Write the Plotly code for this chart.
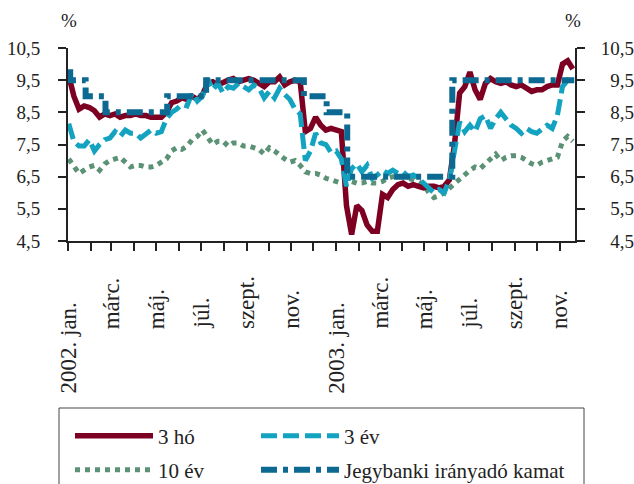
import pandas as pd
import plotly.graph_objects as go

# ---------------- data ----------------
week_start = "2002-01-02"
n_weeks = 99
weeks = pd.date_range(week_start, periods=n_weeks, freq="7D")

ho3 = [9.65, 9.0, 8.6, 8.7, 8.65, 8.55, 8.35, 8.45, 8.4, 8.45,
       8.35, 8.4, 8.4, 8.45, 8.4, 8.4, 8.35, 8.35, 8.35, 8.5,
       8.8, 8.85, 8.95, 8.9, 9.0, 8.9, 9.05, 9.4, 9.45, 9.35,
       9.45, 9.5, 9.55, 9.45, 9.5, 9.55, 9.5, 9.4, 9.3, 9.45,
       9.45, 9.6, 9.35, 9.45, 9.5, 9.45, 7.9, 8.0, 8.35, 8.1,
       7.95, 8.0, 7.95, 7.9, 5.6, 4.7, 5.6, 5.45, 5.0, 4.8,
       4.8, 5.95, 5.85, 6.1, 6.25, 6.3, 6.2, 6.25, 6.2, 6.15,
       6.2, 6.2, 6.15, 6.2, 6.4, 7.5, 9.1, 9.3, 9.75, 9.2,
       8.9, 9.4, 9.55, 9.45, 9.4, 9.45, 9.35, 9.3, 9.35, 9.25,
       9.15, 9.2, 9.2, 9.3, 9.35, 9.35, 10.0, 10.1, 9.85]

ev3 = [8.15, 7.6, 7.45, 7.45, 7.65, 7.3, 7.5, 7.65, 7.7, 7.9,
       7.75, 7.95, 7.85, 7.85, 7.7, 7.85, 7.95, 7.85, 7.9, 8.3,
       8.5, 8.6, 8.75, 8.7, 9.1, 8.85, 9.0, 9.55, 9.2, 9.4,
       9.1, 9.3, 9.25, 9.4, 9.3, 9.2, 9.35, 9.25, 8.95, 9.15,
       8.95, 9.25, 9.05, 8.9, 8.6, 8.45, 7.0, 7.3, 7.85, 7.55,
       7.5, 7.25, 7.3, 7.05, 6.2, 6.75, 6.9, 6.65, 6.85, 6.45,
       6.55, 6.7, 6.6, 6.7, 6.6, 6.65, 6.5, 6.55, 6.45, 6.3,
       6.1, 6.0, 6.1, 6.0, 6.4, 7.3, 8.2, 7.9, 8.1, 7.9,
       8.3, 8.4, 8.0, 8.3, 8.5, 8.3, 8.1, 8.0, 7.85, 8.0,
       7.9, 7.85, 8.0, 8.1, 8.0, 8.4, 9.3, 9.5, 9.4]

ev10 = [7.05, 6.85, 6.6, 6.7, 6.8, 6.85, 6.7, 6.9, 7.0, 7.05,
        7.1, 6.95, 6.8, 6.85, 6.85, 6.8, 6.8, 6.85, 6.95, 7.05,
        7.3, 7.4, 7.35, 7.45, 7.65, 7.75, 7.95, 7.7, 7.5, 7.6,
        7.6, 7.45, 7.55, 7.55, 7.45, 7.45, 7.4, 7.35, 7.2, 7.4,
        7.3, 7.15, 7.05, 6.95, 7.0, 6.85, 6.65, 6.6, 6.6, 6.55,
        6.45, 6.4, 6.35, 6.3, 6.25, 6.35, 6.3, 6.3, 6.35, 6.3,
        6.3, 6.35, 6.45, 6.5, 6.5, 6.5, 6.45, 6.4, 6.35, 6.25,
        6.0, 5.85, 5.9, 6.0, 6.15, 6.3, 6.45, 6.6, 6.7, 6.8,
        6.75, 6.9, 7.05, 7.2, 7.0, 7.1, 7.15, 7.15, 7.1, 7.0,
        6.9, 6.85, 6.95, 7.0, 7.05, 7.1, 7.6, 7.75, 7.6]

policy_dates = ["2002-01-01", "2002-01-04", "2002-01-25", "2002-02-21",
                "2002-05-16", "2002-07-08", "2002-11-18", "2002-12-19",
                "2003-01-16", "2003-06-08", "2003-11-21"]
policy_rate = [9.75, 9.5, 9.0, 8.5, 9.0, 9.5, 9.0, 8.5, 6.5, 9.5, 9.5]

series_names = ["3 hó", "3 év", "10 év", "Jegybanki irányadó kamat"]

tick_dates = ["2002-01-01", "2002-03-01", "2002-05-01", "2002-07-01",
              "2002-09-01", "2002-11-01", "2003-01-01", "2003-03-01",
              "2003-05-01", "2003-07-01", "2003-09-01", "2003-11-01"]
tick_labels = ["2002. jan.", "márc.", "máj.", "júl.", "szept.", "nov.",
               "2003. jan.", "márc.", "máj.", "júl.", "szept.", "nov."]

y_ticks = [4.5, 5.5, 6.5, 7.5, 8.5, 9.5, 10.5]

# ---------------- styling ----------------
W, H = 634, 484
ML, MR, MT, MB = 68, 59, 48, 243
PW, PH = W - ML - MR, H - MT - MB
FONT = "Liberation Serif, Times New Roman, serif"
INK = "#222222"

C_RED = "#7d0022"
C_TEAL = "#13a3c1"
C_GREEN = "#5b9275"
C_BLUE = "#0c6991"


def px_x(p):
    return (p - ML) / PW


def px_y(p):
    return (H - MB - p) / PH


fig = go.Figure()

fig.add_trace(go.Scatter(
    x=weeks, y=ev10, name=series_names[2], mode="lines",
    line=dict(color=C_GREEN, width=5, dash="5px,5px"),
    legend="legend3"))
fig.add_trace(go.Scatter(
    x=weeks, y=ho3, name=series_names[0], mode="lines",
    line=dict(color=C_RED, width=5.5),
    legend="legend"))
fig.add_trace(go.Scatter(
    x=weeks, y=ev3, name=series_names[1], mode="lines",
    line=dict(color=C_TEAL, width=5, dash="16px,6px"),
    legend="legend2"))
fig.add_trace(go.Scatter(
    x=policy_dates, y=policy_rate, name=series_names[3], mode="lines",
    line=dict(color=C_BLUE, width=6, dash="16px,6px,5px,6px", shape="hv"),
    yaxis="y2", legend="legend4"))

# x tick labels (rotated, aligned like the original)
for d, lab in zip(tick_dates, tick_labels):
    bottom_px = 396 if lab[:4].isdigit() else 331
    fig.add_annotation(x=d, xref="x", y=px_y(bottom_px), yref="paper",
                       text=lab, textangle=-90, showarrow=False,
                       xanchor="center", yanchor="bottom",
                       font=dict(family=FONT, size=23, color=INK))

# % unit labels
for xp in (px_x(69), px_x(573)):
    fig.add_annotation(x=xp, xref="paper", y=px_y(21), yref="paper",
                       text="%", showarrow=False, xanchor="center",
                       yanchor="middle",
                       font=dict(family=FONT, size=19, color=INK))

# legend frame
fig.add_shape(type="rect", xref="paper", yref="paper",
              x0=px_x(59), x1=px_x(584), y0=px_y(520), y1=px_y(408),
              line=dict(color="#444444", width=1), fillcolor="rgba(0,0,0,0)")

leg_common = dict(orientation="h", bgcolor="rgba(0,0,0,0)", borderwidth=0,
                  font=dict(family=FONT, size=21, color=INK),
                  itemwidth=78, xanchor="left", yanchor="middle",
                  xref="container", yref="container", tracegroupgap=0)
leg_pos = {"legend": (70, 436), "legend2": (256, 436),
           "legend3": (70, 470), "legend4": (256, 470)}
legends = {k: dict(leg_common, x=v[0] / W, y=1 - v[1] / H)
           for k, v in leg_pos.items()}

yax = dict(range=[4.5, 10.5], tickmode="array", tickvals=y_ticks,
           tickformat=".1f", ticks="outside", ticklen=8, tickwidth=2,
           tickcolor=INK, showline=True, linewidth=2, linecolor=INK,
           showgrid=False, zeroline=False, automargin=False,
           tickfont=dict(family=FONT, size=19, color=INK))

fig.update_layout(
    template="none",
    width=W, height=H,
    margin=dict(l=ML, r=MR, t=MT, b=MB, pad=0, autoexpand=False),
    paper_bgcolor="white", plot_bgcolor="white",
    separators=", ",
    showlegend=True,
    xaxis=dict(type="date", range=["2002-01-01", "2003-11-22"],
               tickmode="linear", tick0="2002-01-01", dtick="M1",
               showticklabels=False, ticks="outside", ticklen=8,
               tickwidth=2, tickcolor=INK, showline=True, linewidth=2,
               linecolor=INK, showgrid=False, zeroline=False,
               automargin=False),
    yaxis=dict(yax, side="left", ticklabelstandoff=14),
    yaxis2=dict(yax, side="right", overlaying="y", ticklabelstandoff=12,
                tickmode="array", tickvals=y_ticks,
                ticktext=["\u2007" + f"{v:.1f}".replace(".", ",") if v < 10
                          else f"{v:.1f}".replace(".", ",") for v in y_ticks]),
    **legends,
)

fig.write_html("out.html",
               config={"displayModeBar": False},
               post_script="document.body.style.margin='0';"
                           "document.body.style.overflow='hidden';")
